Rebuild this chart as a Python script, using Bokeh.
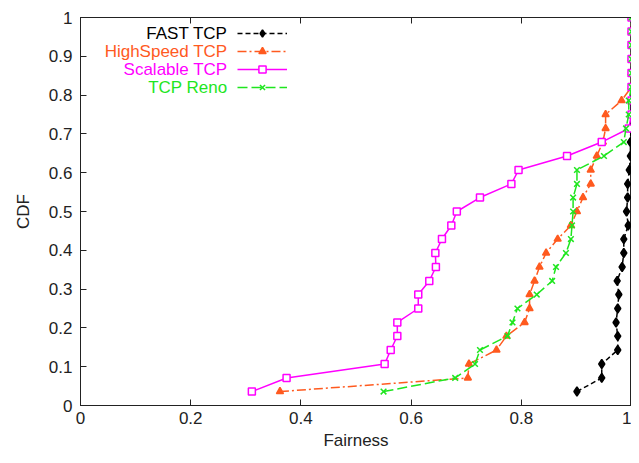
from bokeh.plotting import figure
from bokeh.models import (Range1d, LinearAxis, Legend, LegendItem, Label,
                          FixedTicker, CustomJSTickFormatter)
from bokeh.embed import file_html
from bokeh.resources import INLINE

# CDF levels (28 samples per series)
cdf = [0.036, 0.071, 0.107, 0.143, 0.179, 0.214, 0.25, 0.286, 0.321, 0.357,
       0.393, 0.429, 0.464, 0.5, 0.536, 0.571, 0.607, 0.643, 0.679, 0.714,
       0.75, 0.786, 0.821, 0.857, 0.893, 0.929, 0.964, 1.0]

fast_tcp = [0.901, 0.946, 0.946, 0.975, 0.975, 0.972, 0.975, 0.977, 0.974, 0.983,
            0.986, 0.986, 0.994, 0.991, 0.993, 0.993, 0.996, 0.998, 0.998, 0.999,
            1.0, 1.0, 1.0, 1.0, 1.0, 1.0, 1.0, 1.0]
highspeed_tcp = [0.362, 0.703, 0.705, 0.755, 0.773, 0.806, 0.815, 0.815, 0.824, 0.833,
                 0.845, 0.866, 0.89, 0.901, 0.912, 0.926, 0.926, 0.937, 0.948, 0.953,
                 0.953, 0.982, 1.0, 1.0, 1.0, 1.0, 1.0, 1.0]
scalable_tcp = [0.311, 0.374, 0.552, 0.563, 0.575, 0.575, 0.613, 0.613, 0.633, 0.645,
                0.644, 0.656, 0.673, 0.683, 0.725, 0.782, 0.795, 0.883, 0.946, 0.995,
                1.0, 1.0, 1.0, 1.0, 1.0, 1.0, 1.0, 1.0]
tcp_reno = [0.55, 0.68, 0.716, 0.725, 0.775, 0.784, 0.793, 0.828, 0.856, 0.863,
            0.881, 0.89, 0.892, 0.894, 0.894, 0.901, 0.901, 0.95, 0.986, 0.99,
            0.995, 0.995, 1.0, 1.0, 1.0, 1.0, 1.0, 1.0]

series_names = ["FAST TCP", "HighSpeed TCP", "Scalable TCP", "TCP Reno"]
x_ticks = [0, 0.2, 0.4, 0.6, 0.8, 1.0]
y_ticks = [0, 0.1, 0.2, 0.3, 0.4, 0.5, 0.6, 0.7, 0.8, 0.9, 1.0]

FONT = "Liberation Sans"
FS = "17px"
INK = "#222222"

W, H = 631, 455
TOP, BOTTOM, LEFT = 17, 50, 80
FRAME_H = H - TOP - BOTTOM

p = figure(width=W, height=H, x_range=Range1d(0, 1), y_range=Range1d(0, 1),
           output_backend="svg", toolbar_location=None,
           min_border_left=LEFT, min_border_top=TOP, min_border_right=0,
           min_border_bottom=BOTTOM, x_axis_label="Fairness", y_axis_label="CDF")
p.grid.visible = False
p.background_fill_color = "white"
p.border_fill_color = "white"
p.outline_line_color = INK
p.outline_line_width = 1

fmt = CustomJSTickFormatter(code="return Number(tick.toFixed(1)).toString();")
for ax, ticks in ((p.xaxis[0], x_ticks), (p.yaxis[0], y_ticks)):
    ax.ticker = FixedTicker(ticks=ticks)
    ax.formatter = fmt
    ax.major_tick_in = 6
    ax.major_tick_out = 0
    ax.minor_tick_in = 0
    ax.minor_tick_out = 0
    ax.axis_line_color = INK
    ax.major_tick_line_color = INK
    ax.major_label_text_font = FONT
    ax.major_label_text_font_size = FS
    ax.major_label_text_color = INK
    ax.axis_label_text_font = FONT
    ax.axis_label_text_font_size = FS
    ax.axis_label_text_font_style = "normal"
    ax.axis_label_text_color = INK
p.xaxis[0].major_label_standoff = 6
p.xaxis[0].axis_label_standoff = 4
p.yaxis[0].major_label_standoff = 8
p.yaxis[0].axis_label_standoff = 13

top_axis = LinearAxis(ticker=FixedTicker(ticks=x_ticks),
                      formatter=CustomJSTickFormatter(code="return '';"),
                      major_tick_in=6, major_tick_out=0, minor_tick_in=0,
                      minor_tick_out=0, major_label_standoff=0,
                      axis_line_color=INK, major_tick_line_color=INK)
p.add_layout(top_axis, "above")

styles = [
    dict(data=fast_tcp, color="black", dash="5 3", marker="diamond", size=9,
         fill="black"),
    dict(data=highspeed_tcp, color="#FF5A1F", dash="9 3 2 3", marker="triangle",
         size=7, fill="#FF5A1F"),
    dict(data=scalable_tcp, color="#FF00FF", dash="solid", marker="square", size=7,
         fill="white"),
    dict(data=tcp_reno, color="#1EE61E", dash="10 4", marker="x", size=8,
         fill="#1EE61E"),
]

items = []
for name, st in zip(series_names, styles):
    ln = p.line(st["data"], cdf, line_color=st["color"], line_width=1.5,
                line_dash=st["dash"])
    sc = p.scatter(st["data"], cdf, marker=st["marker"], size=st["size"],
                   line_color=st["color"], fill_color=st["fill"], line_width=1.5)
    items.append(LegendItem(label=" ", renderers=[ln, sc]))

# legend rows: centres 16, 34, 52, 70 px below the frame top
row_offsets = [16, 34, 52, 70]
legend = Legend(items=items, location=(157, FRAME_H - 7 - 72), glyph_width=50,
                glyph_height=18, label_width=0, label_height=18, label_standoff=0,
                spacing=0, padding=0, margin=0, border_line_alpha=0,
                background_fill_alpha=0, label_text_font_size="1px")
p.add_layout(legend)

for name, st, off in zip(series_names, styles, row_offsets):
    p.add_layout(Label(x=147, y=FRAME_H - off, x_units="screen", y_units="screen",
                       text=name, text_align="right", text_baseline="middle",
                       text_font=FONT, text_font_size=FS, text_color=st["color"]))

open("out.html", "w").write(file_html(p, INLINE))
